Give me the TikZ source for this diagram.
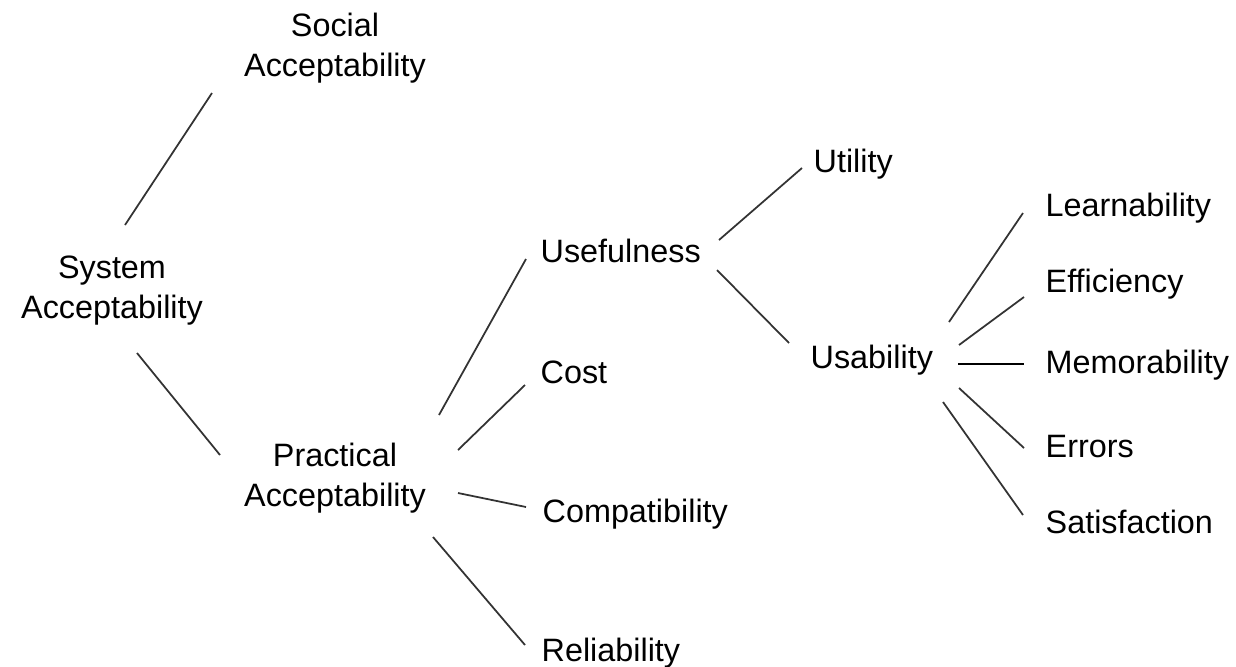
\documentclass[tikz,border=0pt]{standalone}
\usepackage{fontspec}
\setmainfont{Liberation Sans}
\begin{document}
\begin{tikzpicture}[x=0.01cm,y=-0.01cm,
    lbl/.style={inner sep=0pt,font=\fontsize{9.2}{11.4}\selectfont},
    twoline/.style={lbl,align=center},
    leaf/.style={lbl,anchor=base west},
    link/.style={draw=black!80,line width=0.5pt}]
  \useasboundingbox (0,0) rectangle (1236,666);
  % root and first level
  \node[twoline] (sys) at (112,291) {System\\Acceptability};
  \node[twoline] (soc) at (335,48) {Social\\Acceptability};
  \node[twoline] (prac) at (335,478) {Practical\\Acceptability};
  % practical acceptability
  \node[leaf] (usef) at (540,262) {Usefulness};
  \node[leaf] (cost) at (540,383) {Cost};
  \node[leaf] (comp) at (542,522) {Compatibility};
  \node[leaf] (rel) at (541,661) {Reliability};
  % usefulness
  \node[leaf] (util) at (813,172) {Utility};
  \node[leaf] (usab) at (810,368) {Usability};
  % usability
  \node[leaf] (learn) at (1045,216) {Learnability};
  \node[leaf] (eff) at (1045,292) {Efficiency};
  \node[leaf] (mem) at (1045,373) {Memorability};
  \node[leaf] (err) at (1045,457) {Errors};
  \node[leaf] (sat) at (1045,533) {Satisfaction};
  % connectors
  \draw[link] ([shift={(13,-66)}]sys.center) -- ([shift={(-123,45)}]soc.center);
  \draw[link] ([shift={(25,62)}]sys.center) -- ([shift={(-115,-23)}]prac.center);
  \draw[link] ([shift={(104,-63)}]prac.center) -- ([shift={(-14,-3)}]usef.base west);
  \draw[link] ([shift={(123,-28)}]prac.center) -- ([shift={(-15,2)}]cost.base west);
  \draw[link] ([shift={(123,15)}]prac.center) -- ([shift={(-16,-15)}]comp.base west);
  \draw[link] ([shift={(98,59)}]prac.center) -- ([shift={(-16,-16)}]rel.base west);
  \draw[link] ([shift={(179,-22)}]usef.base west) -- ([shift={(-11,-4)}]util.base west);
  \draw[link] ([shift={(177,8)}]usef.base west) -- ([shift={(-21,-25)}]usab.base west);
  \draw[link] ([shift={(139,-46)}]usab.base west) -- ([shift={(-22,-3)}]learn.base west);
  \draw[link] ([shift={(149,-23)}]usab.base west) -- ([shift={(-21,5)}]eff.base west);
  \draw[link,draw=black,line width=0.75pt] ([shift={(148,-4)}]usab.base west) -- ([shift={(-21,-9)}]mem.base west);
  \draw[link] ([shift={(149,20)}]usab.base west) -- ([shift={(-21,-9)}]err.base west);
  \draw[link] ([shift={(133,34)}]usab.base west) -- ([shift={(-22,-18)}]sat.base west);
\end{tikzpicture}
\end{document}
